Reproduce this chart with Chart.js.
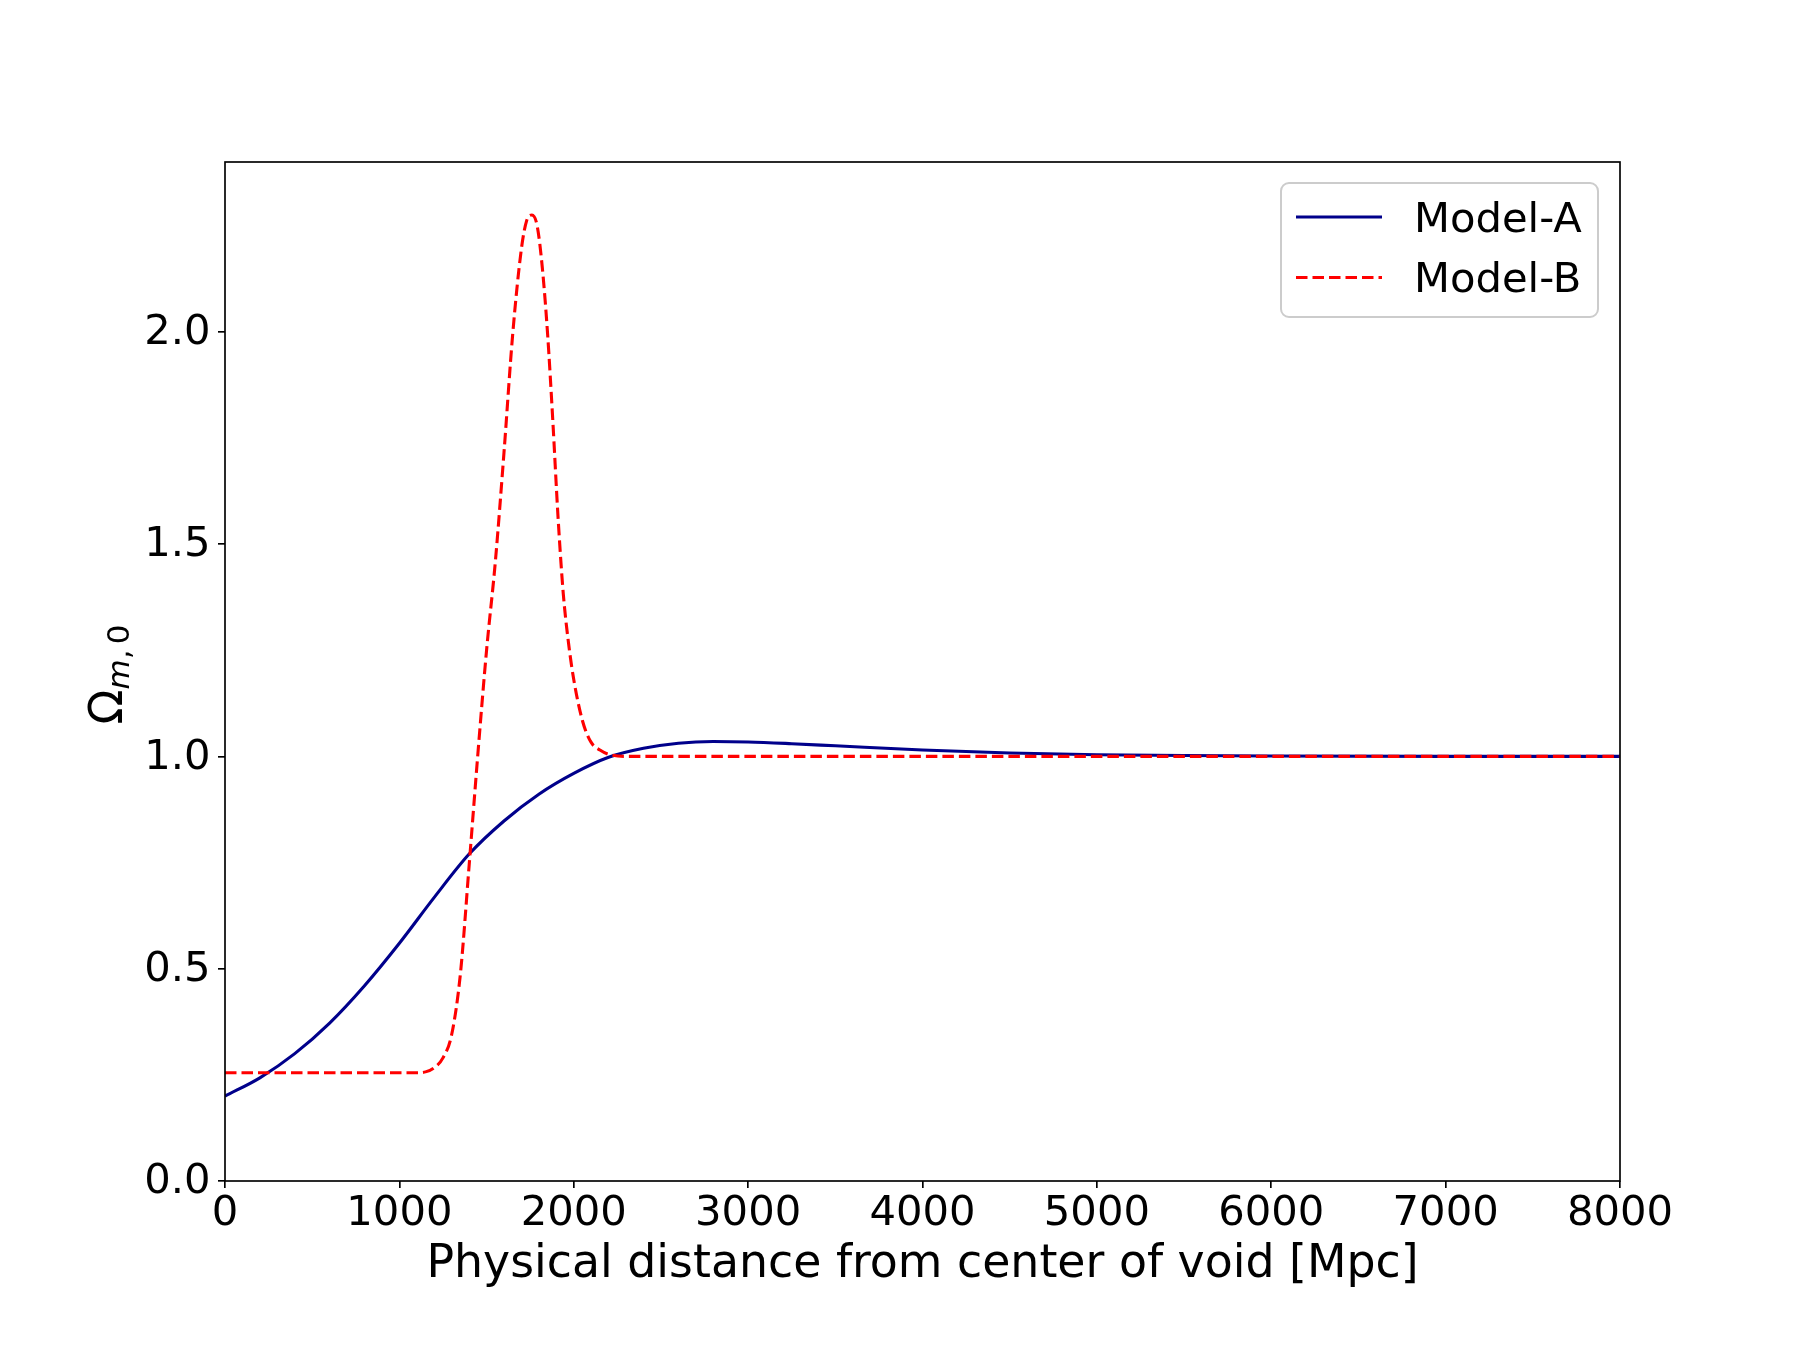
<!DOCTYPE html>
<html><head><meta charset="utf-8">
<script src="https://cdn.jsdelivr.net/npm/chart.js@4.4.1/dist/chart.umd.min.js"></script>
<style>html,body{margin:0;padding:0;background:#fff;}canvas{display:block;}</style>
</head><body>
<canvas id="c" width="1800" height="1350"></canvas>
<script>
// ---- data ----
const seriesLabels = ['Model-A', 'Model-B'];
const distA = [0, 200, 400, 600, 800, 1000, 1200, 1400, 1600, 1800, 2000, 2200, 2400, 2600, 2800, 3000, 3250, 3500, 4000, 4500, 5000, 5500, 6000, 7000, 8000];
const omegaA = [0.200, 0.243, 0.300, 0.372, 0.460, 0.560, 0.668, 0.770, 0.848, 0.911, 0.960, 0.998, 1.019, 1.031, 1.035, 1.034, 1.030, 1.025, 1.015, 1.008, 1.004, 1.002, 1.001, 1.000, 1.000];
const distB = [0, 200, 400, 600, 800, 1000, 1100, 1150, 1200, 1250, 1300, 1350, 1400, 1450, 1500, 1550, 1600, 1650, 1700, 1730, 1760, 1790, 1820, 1850, 1880, 1910, 1940, 1970, 2000, 2050, 2100, 2150, 2200, 2300, 2500, 3000, 4000, 5000, 6000, 7000, 8000];
const omegaB = [0.255, 0.255, 0.255, 0.255, 0.255, 0.255, 0.255, 0.257, 0.267, 0.290, 0.345, 0.488, 0.743, 1.005, 1.250, 1.457, 1.716, 1.995, 2.196, 2.262, 2.275, 2.250, 2.150, 1.995, 1.790, 1.563, 1.383, 1.267, 1.181, 1.084, 1.033, 1.015, 1.005, 1.000, 1.000, 1.000, 1.000, 1.000, 1.000, 1.000, 1.000];
const xTicks = [0, 1000, 2000, 3000, 4000, 5000, 6000, 7000, 8000];
const yTicks = [0.0, 0.5, 1.0, 1.5, 2.0];
const xTitle = 'Physical distance from center of void [Mpc]';
const yTitleMain = 'Ω';
const yTitleSub = ['m', ',', '0'];

const FONT = '"DejaVu Sans"';
const FS = 41.7;
const FT = 45.8;
Chart.defaults.font.family = FONT;
Chart.defaults.font.size = FS;
Chart.defaults.color = '#000';

const framePlugin = {
  id: 'frame',
  afterDatasetsDraw(chart) {
    const {ctx, chartArea: a} = chart;
    ctx.save();
    ctx.lineWidth = 1.67;
    ctx.strokeStyle = '#000';
    ctx.strokeRect(a.left, a.top, a.right - a.left, a.bottom - a.top);
    ctx.restore();
  }
};

const yLabelPlugin = {
  id: 'ylabel',
  afterDraw(chart) {
    const ctx = chart.ctx;
    const a = chart.chartArea;
    ctx.save();
    ctx.translate(122, (a.top + a.bottom) / 2 + 3);
    ctx.rotate(-Math.PI / 2);
    ctx.fillStyle = '#000';
    ctx.textBaseline = 'alphabetic';
    const big = FT + 'px ' + FONT;
    const subI = 'italic 31px ' + FONT;
    const sub = '31px ' + FONT;
    ctx.font = big; const wO = ctx.measureText(yTitleMain).width;
    ctx.font = subI; const wm = ctx.measureText(yTitleSub[0]).width;
    ctx.font = sub; const wc = ctx.measureText(yTitleSub[1]).width;
    const w0 = ctx.measureText(yTitleSub[2]).width;
    const gap = 5, off = 7;
    const total = wO + wm + wc + gap + w0;
    let x = -total / 2;
    ctx.font = big; ctx.fillText(yTitleMain, x, 0); x += wO;
    ctx.font = subI; ctx.fillText(yTitleSub[0], x, off); x += wm;
    ctx.font = sub; ctx.fillText(yTitleSub[1], x, off); x += wc + gap;
    ctx.fillText(yTitleSub[2], x, off);
    ctx.restore();
  }
};

const legendPlugin = {
  id: 'boxlegend',
  afterDraw(chart) {
    const ctx = chart.ctx;
    const bx = 1281, by = 183, bw = 317, bh = 134, r = 8;
    ctx.save();
    ctx.beginPath();
    ctx.roundRect(bx, by, bw, bh, r);
    ctx.fillStyle = 'rgba(255,255,255,0.8)';
    ctx.fill();
    ctx.lineWidth = 2;
    ctx.strokeStyle = '#cccccc';
    ctx.stroke();
    chart.data.datasets.forEach((ds, i) => {
      const y = 217 + i * 60.5;
      ctx.beginPath();
      ctx.setLineDash(ds.borderDash || []);
      ctx.lineWidth = ds.borderWidth;
      ctx.strokeStyle = ds.borderColor;
      ctx.moveTo(1296, y);
      ctx.lineTo(1382, y);
      ctx.stroke();
      ctx.setLineDash([]);
      ctx.fillStyle = '#000';
      ctx.font = FS + 'px ' + FONT;
      ctx.textBaseline = 'alphabetic';
      ctx.fillText(ds.label, 1414, y + 14.7);
    });
    ctx.restore();
  }
};

new Chart(document.getElementById('c'), {
  type: 'line',
  data: {
    datasets: [
      {
        label: seriesLabels[0],
        data: distA.map((d, i) => ({x: d, y: omegaA[i]})),
        borderColor: '#00008B',
        borderWidth: 3.1,
        pointRadius: 0,
        fill: false,
        cubicInterpolationMode: 'monotone',
        order: 1
      },
      {
        label: seriesLabels[1],
        data: distB.map((d, i) => ({x: d, y: omegaB[i]})),
        borderColor: '#FF0000',
        borderWidth: 3.1,
        borderDash: [11.5, 5],
        pointRadius: 0,
        fill: false,
        cubicInterpolationMode: 'monotone',
        order: 0
      }
    ]
  },
  options: {
    responsive: false,
    animation: false,
    devicePixelRatio: 1,
    events: [],
    layout: {padding: {left: 0, right: 180, top: 162, bottom: 0}},
    plugins: {legend: {display: false}, tooltip: {enabled: false}, title: {display: false}},
    scales: {
      x: {
        type: 'linear',
        min: 0, max: 8000,
        afterFit(s) { s.height = 169; },
        afterBuildTicks(s) { s.ticks = xTicks.map(v => ({value: v})); },
        border: {display: false},
        grid: {drawOnChartArea: false, drawTicks: true, tickLength: 7, color: '#000', tickColor: '#000', lineWidth: 1.67},
        ticks: {padding: 5.5, maxRotation: 0, autoSkip: false, font: {size: FS, lineHeight: 1}, callback: v => String(v)},
        title: {display: true, text: xTitle, font: {size: FT, lineHeight: 1}, padding: {top: 0, bottom: 61.5}}
      },
      y: {
        type: 'linear',
        min: 0, max: 2.4,
        afterFit(s) { s.width = 225; },
        afterBuildTicks(s) { s.ticks = yTicks.map(v => ({value: v})); },
        border: {display: false},
        grid: {drawOnChartArea: false, drawTicks: true, tickLength: 7, color: '#000', tickColor: '#000', lineWidth: 1.67},
        ticks: {padding: 7.5, labelOffset: 1.5, autoSkip: false, font: {size: FS, lineHeight: 1}, callback: v => Number(v).toFixed(1)}
      }
    }
  },
  plugins: [framePlugin, yLabelPlugin, legendPlugin]
});
</script>
</body></html>
